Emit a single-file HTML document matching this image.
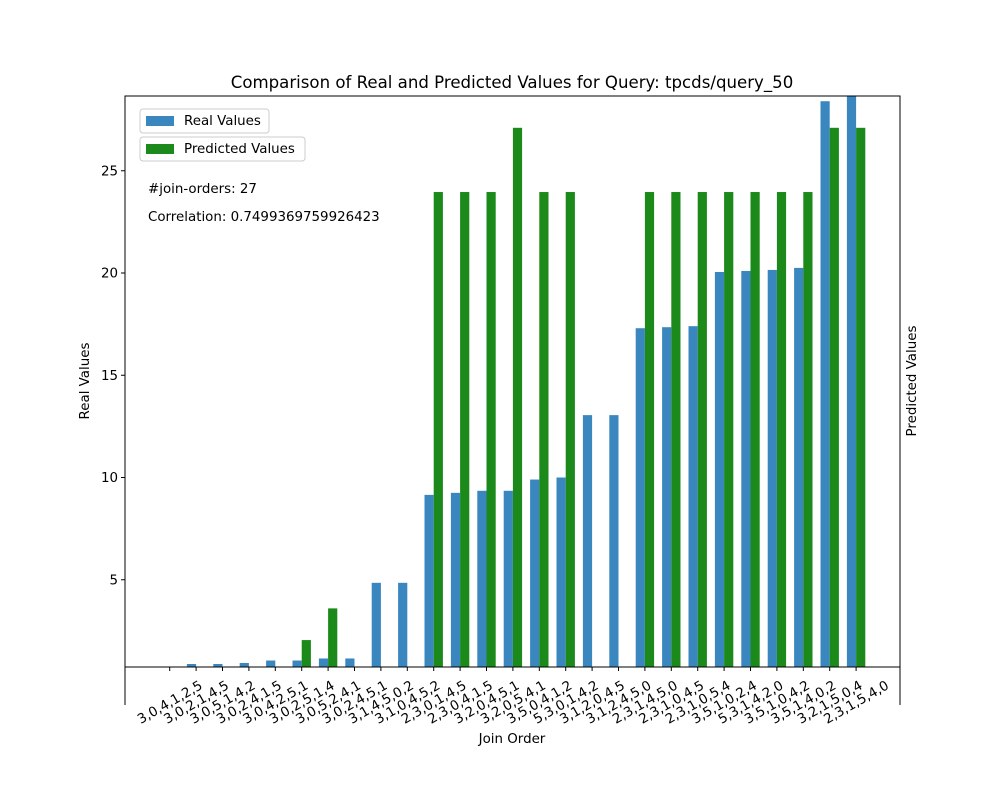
<!DOCTYPE html>
<html><head><meta charset="utf-8"><style>
body{margin:0;background:#fff}
svg{font-family:"DejaVu Sans","Liberation Sans",sans-serif}
</style></head><body>
<svg id="chart" width="1000" height="800" viewBox="0 0 1000 800" xmlns="http://www.w3.org/2000/svg">
<rect width="1000" height="800" fill="#fff"/>
<text x="512" y="88" font-size="16.6" text-anchor="middle">Comparison of Real and Predicted Values for Query: tpcds/query_50</text>
<g id="bars"></g>
<g id="axes"></g>
<text transform="translate(89,381) rotate(-90)" font-size="13.4" text-anchor="middle">Real Values</text>
<text transform="translate(916,381) rotate(-90)" font-size="13.4" text-anchor="middle">Predicted Values</text>
<text x="512" y="743" font-size="13.4" text-anchor="middle">Join Order</text>
<g>
<rect x="140" y="109" width="129" height="24" rx="3" fill="#fff" stroke="#ccc"/>
<rect x="146" y="116" width="28" height="10" fill="#3a87bf"/>
<text x="184" y="125" font-size="13.4">Real Values</text></g>
<g>
<rect x="140" y="137" width="165" height="24" rx="3" fill="#fff" stroke="#ccc"/>
<rect x="146" y="144" width="28" height="10" fill="#1b8a1b"/>
<text x="184" y="153" font-size="13.4">Predicted Values</text></g>
<text x="148" y="193" font-size="13.4">#join-orders: 27</text>
<text x="148" y="221" font-size="13.4">Correlation: 0.7499369759926423</text>
</svg>
<script>
const categories=["3,0,4,1,2,5","3,0,2,1,4,5","3,0,5,1,4,2","3,0,2,4,1,5","3,0,4,2,5,1","3,0,2,5,1,4","3,0,5,2,4,1","3,0,2,4,5,1","3,1,4,5,0,2","3,1,0,4,5,2","2,3,0,1,4,5","2,3,0,4,1,5","3,2,0,4,5,1","3,2,0,5,4,1","3,5,0,4,1,2","5,3,0,1,4,2","3,1,2,0,4,5","3,1,2,4,5,0","2,3,1,4,5,0","2,3,1,0,4,5","2,3,1,0,5,4","3,5,1,0,2,4","5,3,1,4,2,0","3,5,1,0,4,2","3,5,1,4,0,2","3,2,1,5,0,4","2,3,1,5,4,0"];
const realValues=[0.7,0.88,0.88,0.93,1.05,1.05,1.15,1.15,4.85,4.85,9.15,9.25,9.35,9.35,9.9,10.0,13.05,13.05,17.3,17.35,17.4,20.05,20.1,20.15,20.25,28.4,28.9];
const predictedValues=[0,0,0,0,0,2.05,3.6,0,0,0,23.96,23.96,23.96,27.1,23.96,23.96,0,0,23.96,23.96,23.96,23.96,23.96,23.96,23.96,27.1,27.1];
const yTicks=[5,10,15,20,25];
const NS="http://www.w3.org/2000/svg";
const pL=125,pR=900,pT=96,pB=667;
const yMin=0.73;
const y=v=>682-v*20.45;
const x=i=>169.7+i*26.4;
const bw=9.2;
function mk(t,a,p){const e=document.createElementNS(NS,t);for(const k in a)e.setAttribute(k,a[k]);p.appendChild(e);return e;}
const bars=document.getElementById('bars'),axes=document.getElementById('axes');
const clip=mk('clipPath',{id:'pc'},bars);mk('rect',{x:pL,y:pT,width:pR-pL,height:pB-pT},clip);
const g=mk('g',{'clip-path':'url(#pc)'},bars);
categories.forEach((c,i)=>{
 if(realValues[i]>yMin){const r=mk('rect',{x:x(i)-bw,y:y(realValues[i]),width:bw,height:y(yMin)-y(realValues[i]),fill:'#3a87bf'},g);
 
 }
 if(predictedValues[i]>yMin){const p=mk('rect',{x:x(i),y:y(predictedValues[i]),width:bw,height:y(yMin)-y(predictedValues[i]),fill:'#1b8a1b'},g);
 
 }
 const t=mk('line',{x1:x(i),x2:x(i),y1:pB,y2:pB+4,stroke:'#000'},axes);
 
 
 const l=mk('text',{transform:`translate(${x(i)},${pB+35}) rotate(-30)`,'font-size':'13.4','text-anchor':'middle',dy:'0.35em'},axes);
 l.textContent=c;
 
 
});
yTicks.forEach(v=>{
 const t=mk('line',{x1:pL-4,x2:pL,y1:y(v),y2:y(v),stroke:'#000'},axes);
 
 
 const l=mk('text',{x:pL-7,y:y(v)+4.5,'font-size':'13.4','text-anchor':'end'},axes);
 l.textContent=v;
 
 
});
const s=mk('path',{d:`M${pL},705V${pT}H${pR}V705M${pL},${pB}H${pR}`,fill:'none',stroke:'#000','stroke-width':1},axes);


</script>
</body></html>
